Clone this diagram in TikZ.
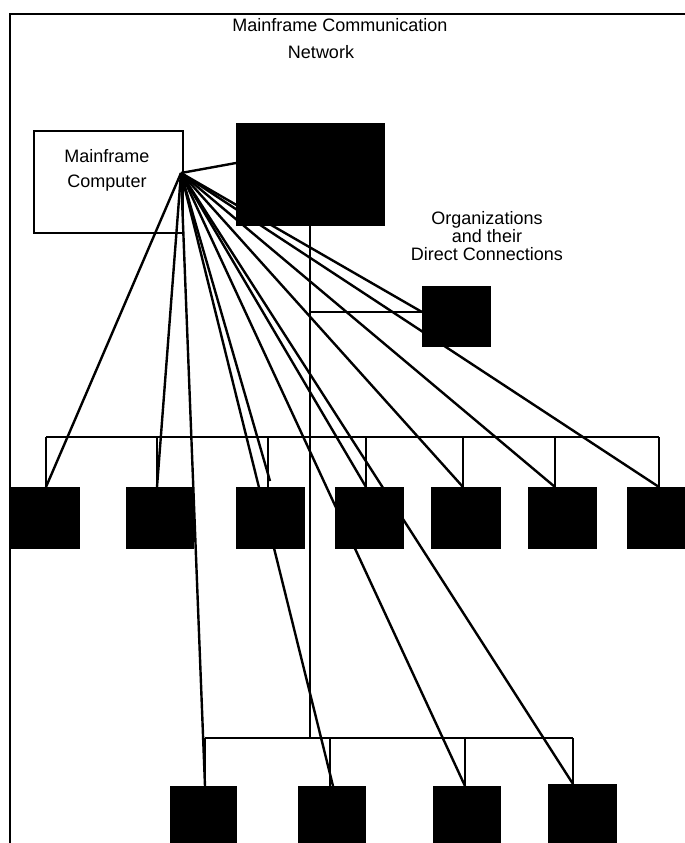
\documentclass[tikz,border=0pt]{standalone}
\usepackage{fontspec}
\setmainfont{Liberation Sans}
\usetikzlibrary{fit,calc}
\begin{document}
\begin{tikzpicture}[x=0.75pt,y=-0.75pt,
  blk/.style={fill=black,draw=black,inner sep=0pt,outer sep=0pt},
  link/.style={line width=1.8pt},
  bus/.style={line width=1.4pt},
  lbl/.style={font=\fontsize{13.5}{13.5}\selectfont,inner sep=0pt}]
\useasboundingbox (0,0) rectangle (685,843);
% frame
\draw[line width=1.7pt] (10,843) -- (10,14) -- (685,14);
% titles
\node[lbl] (title1) at (340,25) {Mainframe Communication};
\node[lbl] (title2) at (321,52) {Network};
% mainframe computer
\node[fit={(34,131) (183,233)}, draw, line width=2.2pt, inner sep=0pt] (mf) {};
\node[lbl, align=center, font=\fontsize{13.5}{18.75}\selectfont] (mftext) at (107,170) {Mainframe\\Computer};
\coordinate (hub) at (181,173);
% big box
\node[blk, fit={(236,123) (384,225)}] (bigbox) {};
% organizations
\node[lbl, align=center] (orglbl) at (487,236) {Organizations\\and their\hspace*{15pt}\\Direct Connections};
\node[blk, fit={(422,286) (490,346)}] (org) {};
% middle row
\node[blk, fit={(10,487) (79,548)}] (m1) {};
\node[blk, fit={(126,487) (193,548)}] (m2) {};
\node[blk, fit={(236,487) (304,548)}] (m3) {};
\node[blk, fit={(335,487) (403,548)}] (m4) {};
\node[blk, fit={(431,487) (500,548)}] (m5) {};
\node[blk, fit={(528,487) (596,548)}] (m6) {};
\node[blk, fit={(627,487) (685,548)}] (m7) {};
% bottom row
\node[blk, fit={(170,786) (236,843)}] (b1) {};
\node[blk, fit={(298,786) (365,843)}] (b2) {};
\node[blk, fit={(433,786) (500,843)}] (b3) {};
\node[blk, fit={(548,784) (616,843)}] (b4) {};
% bus 1
\coordinate (d1) at (46,437);
\coordinate (d2) at (157,437);
\coordinate (d3) at (268,437);
\coordinate (d4) at (366,437);
\coordinate (d5) at (463,437);
\coordinate (d6) at (555,437);
\coordinate (d7) at (659,437);
\draw[bus] (d1) -- (d7);
\foreach \i in {1,...,7} {\draw[bus] (d\i) -- (m\i.north -| d\i);}
% bus 2
\coordinate (e1) at (205,738);
\coordinate (e2) at (330,738);
\coordinate (e3) at (465,738);
\coordinate (e4) at (573,738);
\draw[bus] (e1) -- (e4);
\foreach \i in {1,...,4} {\draw[bus] (e\i) -- (b\i.north -| e\i);}
% vertical from big box
\coordinate (v) at (310,738);
\draw[bus] (bigbox.south) -- (v);
\coordinate (t) at (310,312);
\draw[bus] (t) -- (org.west |- t);
% hub links
\coordinate (stub) at (270,481);
\draw[link] (hub) -- ($(bigbox.west)+(0,-11)$);
\draw[link] (hub) -- (org.west |- t);
\draw[link] (hub) -- (m1.north -| d1);
\draw[link] (hub) -- (m2.north -| d2);
\draw[link] (hub) -- (stub);
\draw[link] (hub) -- (m4.north -| d4);
\draw[link] (hub) -- (m5.north -| d5);
\draw[link] (hub) -- (m6.north -| d6);
\draw[link] (hub) -- (m7.north -| d7);
\draw[link] (hub) -- (b1.north -| e1);
\draw[link] (hub) -- ($(b2.north -| e2)+(3,0)$);
\draw[link] (hub) -- (b3.north -| e3);
\draw[link] (hub) -- (b4.north -| e4);
\end{tikzpicture}
\end{document}
